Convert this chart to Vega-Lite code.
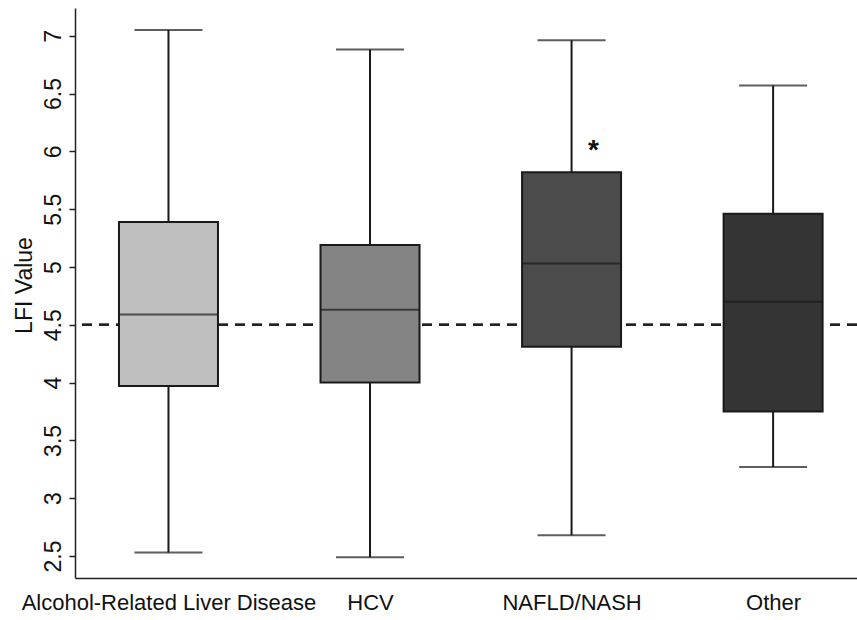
{
  "$schema": "https://vega.github.io/schema/vega-lite/v6.json",
  "width": 782,
  "height": 570,
  "autosize": "none",
  "padding": {"left": 75, "top": 8, "right": 0, "bottom": 42},
  "background": "white",
  "config": {
    "view": {"stroke": null},
    "font": "Liberation Sans",
    "axis": {"labelFont": "Liberation Sans", "titleFont": "Liberation Sans", "labelColor": "#111", "titleColor": "#111", "domainColor": "#222", "tickColor": "#222"}
  },
  "data": {
    "values": [
      {"group": "Alcohol-Related Liver Disease", "min": 2.53, "q1": 3.97, "median": 4.59, "q3": 5.39, "max": 7.05},
      {"group": "HCV", "min": 2.49, "q1": 4.0, "median": 4.63, "q3": 5.19, "max": 6.88},
      {"group": "NAFLD/NASH", "min": 2.68, "q1": 4.31, "median": 5.03, "q3": 5.82, "max": 6.96},
      {"group": "Other", "min": 3.27, "q1": 3.75, "median": 4.7, "q3": 5.46, "max": 6.57}
    ]
  },
  "encoding": {
    "x": {
      "field": "group",
      "type": "nominal",
      "sort": null,
      "scale": {"type": "point", "domain": ["Alcohol-Related Liver Disease", "HCV", "NAFLD/NASH", "Other"], "padding": 0.44, "align": 0.527},
      "axis": {"title": null, "labelAngle": 0, "labelFontSize": 22, "labelLimit": 0, "ticks": false, "labelPadding": 14, "domainWidth": 1.5, "labelOverlap": false}
    }
  },
  "layer": [
    {
      "mark": {"type": "rule", "strokeDash": [10, 7], "strokeWidth": 2, "color": "#222"},
      "encoding": {"x": null, "y": {"datum": 4.5, "type": "quantitative"}}
    },
    {
      "mark": {"type": "rule", "strokeWidth": 2, "color": "#1a1a1a"},
      "encoding": {
        "y": {
          "field": "min",
          "type": "quantitative",
          "scale": {"domain": [2.31, 7.24], "nice": false, "zero": false},
          "axis": {"title": "LFI Value", "titleFontSize": 23, "titleFontWeight": "normal", "titleY": 277, "labelFontSize": 23, "labelAngle": -90, "values": [2.5, 3, 3.5, 4, 4.5, 5, 5.5, 6, 6.5, 7], "format": "~g", "grid": false, "tickSize": 6, "labelPadding": 4, "domainWidth": 1.5, "tickWidth": 1.5, "titlePadding": 6}
        },
        "y2": {"field": "max"}
      }
    },
    {
      "mark": {"type": "tick", "size": 68, "thickness": 2, "color": "#1a1a1a"},
      "encoding": {"y": {"field": "min", "type": "quantitative"}}
    },
    {
      "mark": {"type": "tick", "size": 68, "thickness": 2, "color": "#1a1a1a"},
      "encoding": {"y": {"field": "max", "type": "quantitative"}}
    },
    {
      "mark": {"type": "bar", "width": 99, "stroke": "#1a1a1a", "strokeWidth": 2},
      "encoding": {
        "y": {"field": "q1", "type": "quantitative"},
        "y2": {"field": "q3"},
        "fill": {
          "field": "group",
          "type": "nominal",
          "scale": {"domain": ["Alcohol-Related Liver Disease", "HCV", "NAFLD/NASH", "Other"], "range": ["#bebebe", "#848484", "#4b4b4b", "#343434"]},
          "legend": null
        }
      }
    },
    {
      "mark": {"type": "tick", "size": 99, "thickness": 2, "color": "#1a1a1a"},
      "encoding": {"y": {"field": "median", "type": "quantitative"}}
    },
    {
      "data": {"values": [{"group": "NAFLD/NASH", "mark": "*", "at": 6.0}]},
      "mark": {"type": "text", "fontSize": 28, "fontWeight": "bold", "dx": 22, "baseline": "middle", "color": "#111"},
      "encoding": {
        "y": {"field": "at", "type": "quantitative"},
        "text": {"field": "mark"}
      }
    }
  ]
}
